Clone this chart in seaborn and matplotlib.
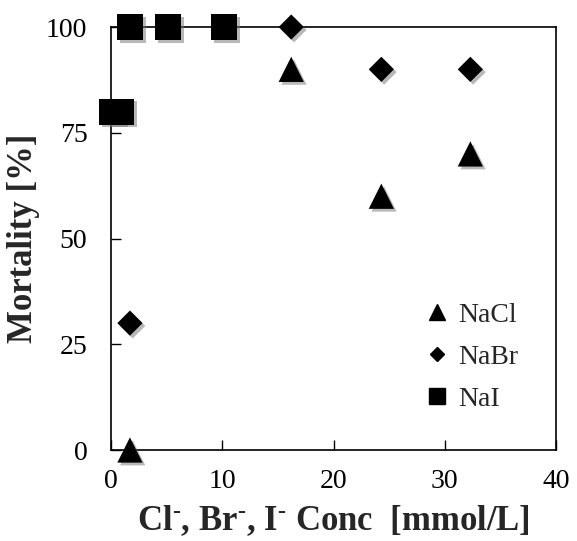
import matplotlib
matplotlib.use("Agg")
import matplotlib.pyplot as plt
import matplotlib.patheffects as pe
from matplotlib.lines import Line2D
import seaborn as sns
import pandas as pd

# Data
nacl_x = [1.7, 16.2, 24.3, 32.3]
nacl_y = [0, 90, 60, 70]
nabr_x = [1.7, 16.2, 24.3, 32.3]
nabr_y = [30, 100, 90, 90]
nai_x = [0.1, 0.9, 1.7, 5.1, 10.2]
nai_y = [80, 80, 100, 100, 100]
series_names = ["NaCl", "NaBr", "NaI"]
x_ticks = [0, 10, 20, 30, 40]
y_ticks = [0, 25, 50, 75, 100]

sns.set_theme(style="white")
plt.rcParams['font.family'] = ['Liberation Serif', 'DejaVu Serif']
plt.rcParams['mathtext.fontset'] = 'custom'
plt.rcParams['mathtext.rm'] = 'Liberation Serif:bold'
plt.rcParams['mathtext.bf'] = 'Liberation Serif:bold'
plt.rcParams['mathtext.it'] = 'Liberation Serif:bold'

fig = plt.figure(figsize=(5.77, 5.41), dpi=100)
ax = fig.add_axes([0.1924, 0.1682, 0.7712, 0.7818])

shadow = [pe.SimplePatchShadow(offset=(2, -2), shadow_rgbFace='0.45', alpha=0.5), pe.Normal()]

df_cl = pd.DataFrame({"x": nacl_x, "y": nacl_y})
df_br = pd.DataFrame({"x": nabr_x, "y": nabr_y})
df_i = pd.DataFrame({"x": nai_x, "y": nai_y})

specs = [(df_cl, "^", 330), (df_br, "D", 165), (df_i, "s", 350)]
for df, m, s in specs:
    sns.scatterplot(data=df, x="x", y="y", marker=m, s=s, color="black",
                    edgecolor="none", ax=ax, legend=False, clip_on=False, zorder=3)
for coll in ax.collections:
    coll.set_path_effects(shadow)

ax.set_xlim(0, 40)
ax.set_ylim(0, 100)
ax.set_xticks(x_ticks)
ax.set_yticks(y_ticks)
ax.tick_params(direction='in', length=7, width=1, labelsize=20, colors='black',
               top=False, right=False, bottom=True, left=True)
ax.tick_params(axis='y', pad=17)
ax.tick_params(axis='x', pad=14)
for sp in ax.spines.values():
    sp.set_color('black')
    sp.set_linewidth(1.2)

ax.set_ylabel("Mortality [%]", fontsize=25, fontweight='bold', labelpad=4)
ax.set_xlabel(r"Cl$^{\text{-}}$, Br$^{\text{-}}$, I$^{\text{-}}$ Conc  [mmol/L]",
              fontsize=25, fontweight='bold', labelpad=6)

handles = [Line2D([], [], marker=m, linestyle='none', color='black', markersize=ms)
           for m, ms in [("^", 12), ("D", 7.6), ("s", 11.8)]]
leg = ax.legend(handles, series_names, loc='lower right', bbox_to_anchor=(0.915, 0.09),
                frameon=False, fontsize=20, handletextpad=0.25, labelspacing=0.6,
                handlelength=1.0, borderaxespad=0, borderpad=0)

fig.savefig("out.png", dpi=100, facecolor='white')
